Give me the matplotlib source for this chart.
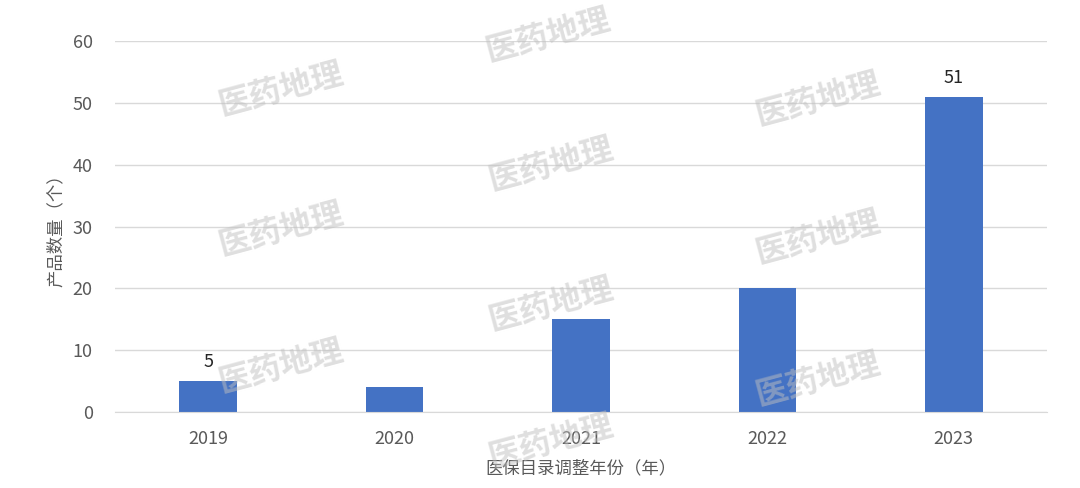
import matplotlib
matplotlib.use("Agg")
import matplotlib.pyplot as plt

plt.rcParams['font.family'] = ['Noto Sans CJK SC', 'DejaVu Sans']

years = ["2019", "2020", "2021", "2022", "2023"]
counts = [5, 4, 15, 20, 51]
labeled = {0: "5", 4: "51"}
yticks = [0, 10, 20, 30, 40, 50, 60]

watermarks = [(548, 36), (281, 90), (818, 100), (551, 165), (281, 230), (818, 238),
              (551, 305), (281, 367), (818, 380), (551, 442)]

fig = plt.figure(figsize=(10.8, 4.88), dpi=100)
ax = fig.add_axes([115/1080, 1-412/488, (1047-115)/1080, (412-41)/488])

x = list(range(len(years)))
bars = ax.bar(x, counts, width=0.31, color="#4472C4", zorder=2)
for i, txt in labeled.items():
    ax.text(x[i], counts[i] + 1.6, txt, ha="center", va="bottom", fontsize=13, color="#262626")

ax.set_xlim(-0.5, len(years) - 0.5)
ax.set_ylim(0, 60)
ax.set_yticks(yticks)
ax.set_xticks(x)
ax.set_xticklabels(years)
ax.tick_params(axis="both", length=0, labelsize=13, labelcolor="#595959")
ax.tick_params(axis="x", pad=13)
ax.tick_params(axis="y", pad=16)
ax.grid(axis="y", color="#D9D9D9", linewidth=1, zorder=0)
for s in ax.spines.values():
    s.set_visible(False)
ax.spines["bottom"].set_visible(True)
ax.spines["bottom"].set_color("#D9D9D9")

ax.set_ylabel("产品数量（个）", fontsize=12.5, color="#595959", labelpad=6)
ax.set_xlabel("医保目录调整年份（年）", fontsize=12.5, color="#595959", labelpad=8)

for (px, py) in watermarks:
    fig.text(px/1080, 1-py/488, "医药地理", ha="center", va="center", rotation=15,
             fontsize=23, fontweight="bold", color="#BFBFBF", alpha=0.5, zorder=10)

fig.savefig("out.png", dpi=100)
